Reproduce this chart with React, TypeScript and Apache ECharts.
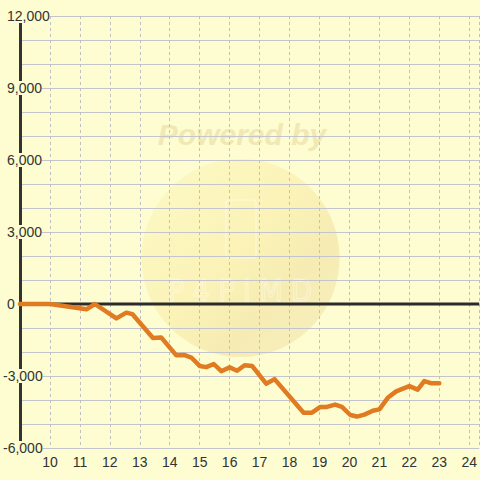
import React, { useEffect, useRef } from "react";
import * as echarts from "echarts";

const hours = [
  9.0, 10.0, 11.22, 11.5, 12.22, 12.55, 12.75, 13.44, 13.72, 14.22, 14.5, 14.72,
  15.0, 15.22, 15.47, 15.72, 16.0, 16.25, 16.5, 16.75, 17.22, 17.5, 18.47, 18.75,
  19.03, 19.25, 19.52, 19.75, 20.03, 20.25, 20.5, 20.78, 21.0, 21.28, 21.56, 22.0,
  22.28, 22.5, 22.72, 23.0,
];
const values = [
  0, 0, -220, 0, -600, -360, -420, -1420, -1400, -2140, -2130, -2230,
  -2580, -2630, -2500, -2800, -2640, -2780, -2550, -2580, -3320, -3130, -4530, -4530,
  -4290, -4290, -4190, -4290, -4625, -4690, -4610, -4450, -4390, -3910, -3640, -3420,
  -3570, -3210, -3300, -3300,
];
const xRange = [9, 24.333];
const yRange = [-6000, 12000];
const zeroLine = [0, 0];

const BG = "#fdfdd1";
const FONT = '"Liberation Sans", Arial, sans-serif';

export default function App() {
  const ref = useRef<HTMLDivElement>(null);
  useEffect(() => {
    document.body.style.margin = "0";
    const chart = echarts.init(ref.current!, null, { renderer: "svg" });
    const fmt = (v: number) => v.toLocaleString("en-US");
    chart.setOption({
      animation: false,
      backgroundColor: BG,
      grid: { left: 20, right: 0, top: 16, bottom: 32, containLabel: false },
      graphic: [
        {
          type: "circle",
          z: -10,
          shape: { cx: 240.5, cy: 258, r: 99 },
          style: {
            fill: new echarts.graphic.LinearGradient(0, 0, 1, 1, [
              { offset: 0, color: "#fdfac6" },
              { offset: 0.45, color: "#fbf3b8" },
              { offset: 0.7, color: "#f6ecb3" },
              { offset: 1, color: "#f6f0c2" },
            ]),
          },
        },
        {
          type: "text",
          z: -10,
          x: 242,
          y: 134,
          style: {
            text: "Powered by",
            fontFamily: FONT,
            fontSize: 30,
            fontWeight: "bold",
            fontStyle: "italic",
            fill: "#f2e8b4",
            align: "center",
            verticalAlign: "middle",
          },
        },
        {
          type: "rect",
          z: -10,
          shape: { x: 226, y: 200, width: 30, height: 58, r: 3 },
          style: { fill: "none", stroke: "rgba(255,255,255,0.5)", lineWidth: 1.2 },
        },
        {
          type: "text",
          z: -10,
          x: 240,
          y: 290,
          style: {
            text: "P 4 P i M D",
            fontFamily: '"DejaVu Sans Condensed", "DejaVu Sans", sans-serif',
            fontSize: 30,
            fill: "none",
            stroke: "rgba(255,255,255,0.5)",
            lineWidth: 0.8,
            align: "center",
            verticalAlign: "middle",
          },
        },
      ],
      xAxis: {
        type: "value",
        min: xRange[0],
        max: xRange[1],
        interval: 1,
        axisLine: { show: false },
        axisTick: { show: false },
        axisLabel: {
          margin: 7,
          color: "#333",
          fontSize: 14,
          fontFamily: FONT,
          formatter: (v: number) => (v === xRange[0] ? "" : String(v)),
        },
        splitLine: {
          show: true,
          lineStyle: { color: "#c0c0c0", width: 1, type: [3, 3] },
        },
      },
      yAxis: [
        {
          type: "value",
          min: yRange[0],
          max: yRange[1],
          interval: 1000,
          axisLine: { show: false },
          axisTick: { show: false },
          axisLabel: { show: false },
          splitLine: { show: true, lineStyle: { color: "#c4c4cc", width: 1 } },
        },
        {
          type: "value",
          position: "left",
          min: yRange[0],
          max: yRange[1],
          interval: 3000,
          axisLine: { show: true, lineStyle: { color: "#333", width: 3 } },
          axisTick: { show: false },
          splitLine: { show: false },
          axisLabel: {
            align: "left",
            margin: 17,
            backgroundColor: BG,
            formatter: (v: number) => (v < 0 ? `{n|${fmt(v)}}` : `{p|${fmt(v)}}`),
            rich: {
              n: { fontSize: 14, fontFamily: FONT, color: "#333" },
              p: { fontSize: 14, fontFamily: FONT, color: "#333", padding: [0, 0, 0, 4] },
            },
          },
        },
      ],
      series: [
        {
          type: "line",
          yAxisIndex: 0,
          z: 2,
          showSymbol: false,
          silent: true,
          data: xRange.map((x, i) => [x, zeroLine[i]]),
          lineStyle: { color: "#2b2b2b", width: 3 },
        },
        {
          type: "line",
          yAxisIndex: 0,
          z: 3,
          showSymbol: false,
          silent: true,
          data: hours.map((h, i) => [h, values[i]]),
          lineStyle: { color: "#e07b22", width: 4.5, join: "round", cap: "round" },
        },
      ],
    });
    return () => chart.dispose();
  }, []);
  return (
    <div
      ref={ref}
      style={{ width: 480, height: 480, position: "fixed", left: 0, top: 0 }}
    />
  );
}
